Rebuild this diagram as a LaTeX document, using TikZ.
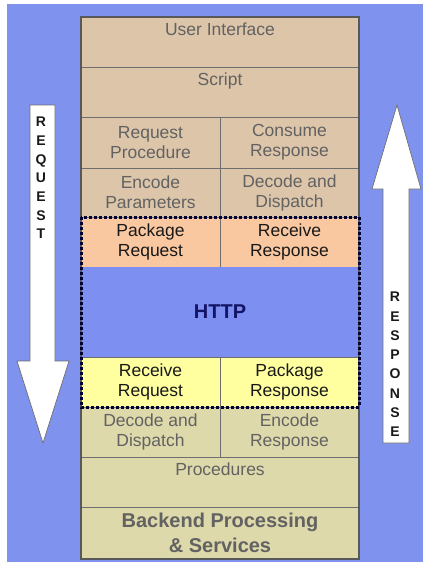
\documentclass[tikz,border=0pt]{standalone}
\usepackage{fontspec}
\setmainfont{Liberation Sans}
\definecolor{bgblue}{HTML}{7F92EE}
\definecolor{httpblue}{HTML}{7D8FF0}
\definecolor{tan}{HTML}{DDC5AA}
\definecolor{orng}{HTML}{FAC8A0}
\definecolor{yel}{HTML}{FFFFA0}
\definecolor{khaki}{HTML}{DDD9AB}
\definecolor{linec}{HTML}{6E6E6E}
\definecolor{fadetext}{HTML}{626262}
\definecolor{navy}{HTML}{141466}
\tikzset{
  cell/.style={draw=linec, line width=0.8pt, inner sep=0pt, align=center,
    text=fadetext, font=\fontsize{17.5}{20}\selectfont},
  half/.style={cell, minimum width=139pt},
  full/.style={cell, minimum width=278pt},
  strong/.style={text=black!90},
  arrowshape/.style={draw=linec, line width=0.7pt, fill=white},
  vletters/.style={align=center, inner sep=0pt, text=black!90}
}
\begin{document}
\begin{tikzpicture}[x=1pt,y=-1pt]
\useasboundingbox (0,0) rectangle (423,562);
\fill[white] (0,0) rectangle (423,562);
\fill[bgblue] (7,4) rectangle (423,562);

% upper stack
\node[full, fill=tan, minimum height=50pt] (ui) at (220,42) {User Interface\\ \strut};
\node[full, fill=tan, minimum height=50pt] (script) at (220,92) {Script\\ \strut};
\node[half, fill=tan, minimum height=51pt] (reqproc) at (150.5,142.5) {Request\\Procedure};
\node[half, fill=tan, minimum height=51pt] (consresp) at (289.5,142.5) {Consume\\Response};
\node[half, fill=tan, minimum height=49pt] (encpar) at (150.5,192.5) {Encode\\Parameters};
\node[half, fill=tan, minimum height=49pt] (decdisp1) at (289.5,192.5) {Decode and\\Dispatch};
\node[half, fill=orng, strong, minimum height=50pt] (pkgreq) at (150.5,242) {Package\\Request};
\node[half, fill=orng, strong, minimum height=50pt] (recvresp) at (289.5,242) {Receive\\Response};

% HTTP
\node[full, draw=none, fill=httpblue, minimum height=90pt, text=navy,
  font=\fontsize{20}{24}\selectfont\bfseries] (http) at (220,312) {HTTP};

% lower stack
\node[half, fill=yel, strong, minimum height=50pt] (recvreq) at (150.5,382) {Receive\\Request};
\node[half, fill=yel, strong, minimum height=50pt] (pkgresp) at (289.5,382) {Package\\Response};
\node[half, fill=khaki, minimum height=50pt] (decdisp2) at (150.5,432) {Decode and\\Dispatch};
\node[half, fill=khaki, minimum height=50pt] (encresp) at (289.5,432) {Encode\\Response};
\node[full, fill=khaki, minimum height=50pt] (procs) at (220,482) {Procedures\\ \strut};
\node[full, fill=khaki, minimum height=52pt, font=\fontsize{20}{25}\selectfont\bfseries] (backend) at (220,533) {Backend Processing\\\& Services};

% outer frame
\draw[linec!80!black, line width=1.2pt] (81,17) rectangle (359,559);
% dotted transport box
\draw[black!80!blue, line width=3pt, dash pattern=on 3pt off 2pt] (81,217) rectangle (359,407);

% request arrow (down)
\draw[arrowshape] (30,105) -- (55,105) -- (55,361) -- (69,361) -- (43,443) -- (17,361) -- (30,361) -- cycle;
\node[vletters, font=\fontsize{14}{18.7}\selectfont\bfseries] (reqtxt) at (41,178) {R\\E\\Q\\U\\E\\S\\T};

% response arrow (up)
\draw[arrowshape] (397,105) -- (421,189) -- (409,189) -- (409,443) -- (383,443) -- (383,189) -- (372,189) -- cycle;
\node[vletters, font=\fontsize{14}{19.3}\selectfont\bfseries] (resptxt) at (395,364.5) {R\\E\\S\\P\\O\\N\\S\\E};
\end{tikzpicture}
\end{document}
